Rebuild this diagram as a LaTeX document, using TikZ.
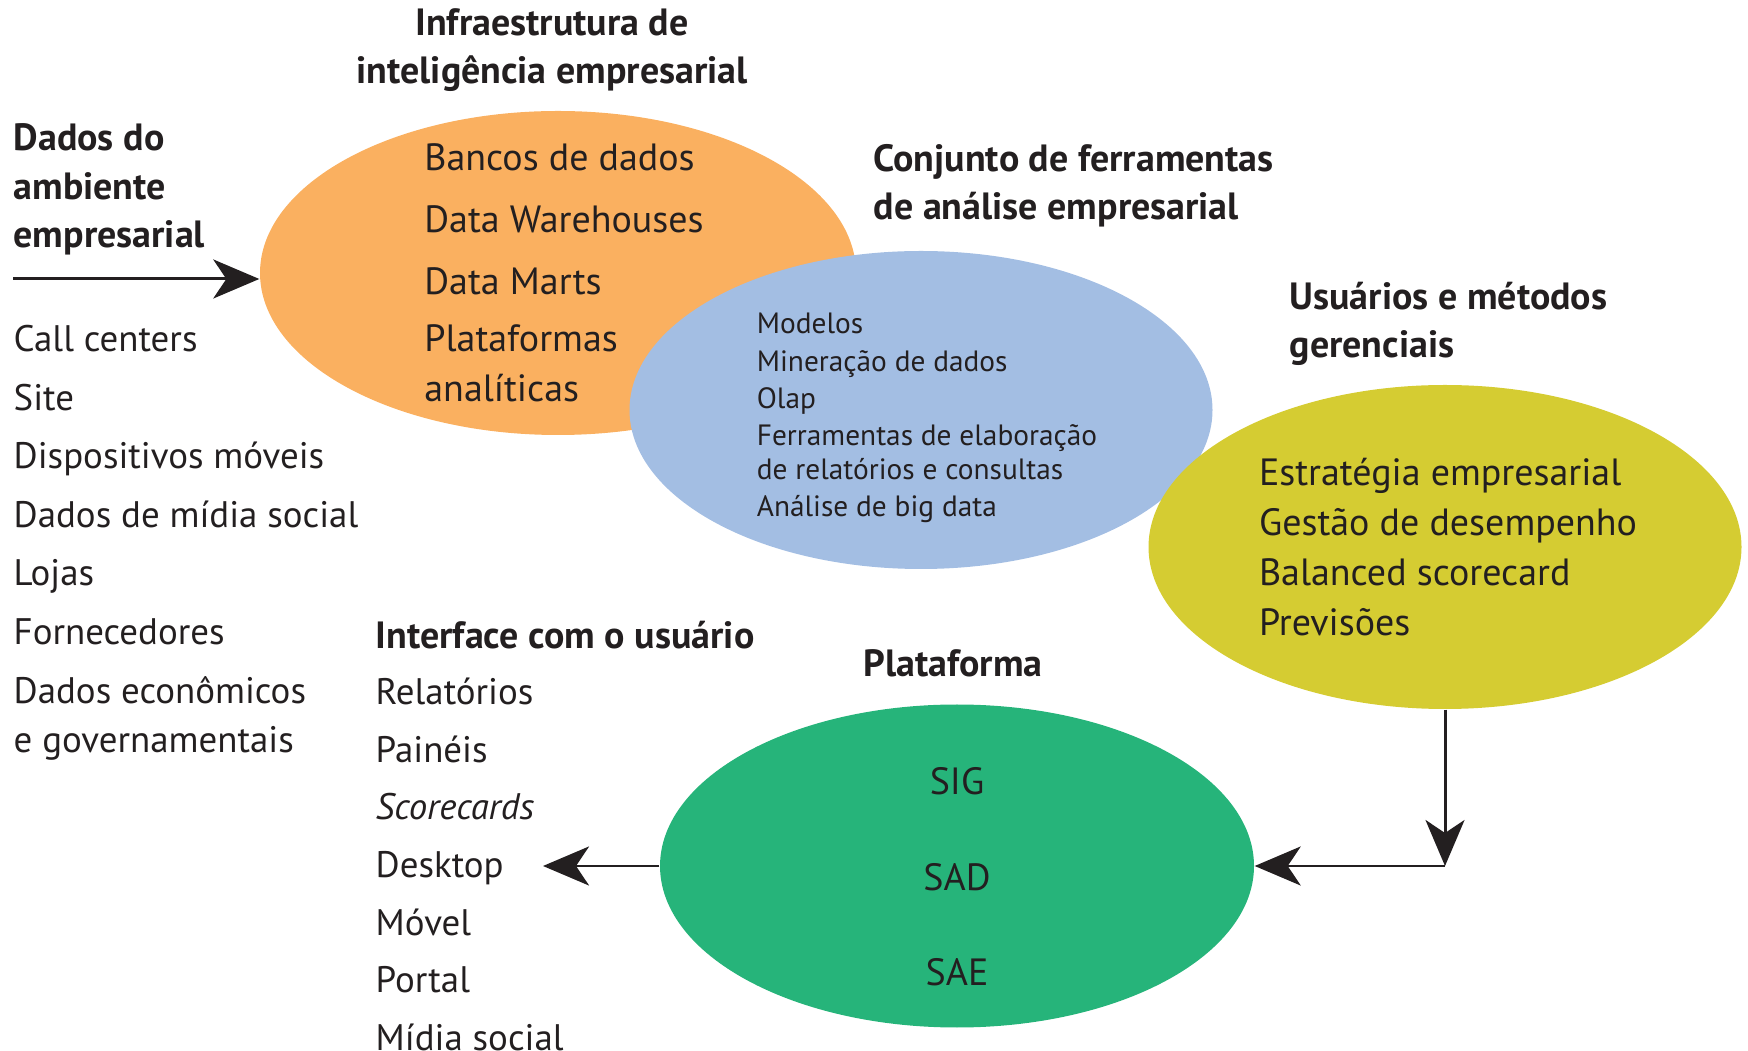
\documentclass[tikz,border=0pt]{standalone}
\usepackage{fontspec}
\setmainfont{PT Sans}
\usetikzlibrary{shapes.geometric,arrows.meta}

\definecolor{laranja}{RGB}{250,176,96}
\definecolor{azul}{RGB}{163,190,227}
\definecolor{amarelo}{RGB}{213,204,50}
\definecolor{verde}{RGB}{38,180,122}
\definecolor{texto}{RGB}{35,31,32}

\begin{document}
\begin{tikzpicture}[x=0.1mm, y=-0.1mm,
  >={Stealth[length=4.6mm, width=3.9mm, inset=1.3mm]},
  bolha/.style={ellipse, inner sep=0pt},
  titulo/.style={font=\bfseries\fontsize{10.8}{13.8}\selectfont, text=texto, align=left, inner sep=0pt},
  lista/.style={font=\fontsize{10.5}{14.2}\selectfont, text=texto, align=left, inner sep=0pt},
  dentro/.style={font=\fontsize{10.8}{14.2}\selectfont, text=texto, align=left, inner sep=0pt},
  miudo/.style={font=\fontsize{8.35}{10.6}\selectfont, text=texto, align=left, inner sep=0pt},
  seta/.style={->, line width=0.85pt, draw=texto}]

\useasboundingbox (0,0) rectangle (1748,1051);

% Ellipses
\node[bolha, fill=laranja, minimum width=59.6mm, minimum height=32.4mm] (infra) at (558,273) {};
\node[bolha, fill=azul, minimum width=58.3mm, minimum height=31.8mm] (ferram) at (921,410) {};
\node[bolha, fill=amarelo, minimum width=59.3mm, minimum height=32.4mm] (usuarios) at (1445,547) {};
\node[bolha, fill=verde, minimum width=59.4mm, minimum height=32.3mm] (plataforma) at (957,866) {};

% Texts inside the ellipses
\node[dentro] (infratxt) at ([shift={(6,0)}]infra.center) {Bancos de dados\\[3.4pt]Data Warehouses\\[3.4pt]Data Marts\\[2pt]Plataformas\\analíticas};
\node[miudo] (ferramtxt) at ([shift={(6,8)}]ferram.center) {Modelos\\Mineração de dados\\Olap\\Ferramentas de elaboração\\[-1pt]de relatórios e consultas\\Análise de big data};
\node[dentro] (usuariostxt) at ([shift={(3,0)}]usuarios.center) {Estratégia empresarial\\Gestão de desempenho\\Balanced scorecard\\Previsões};
\node[dentro, align=center] (plataformatxt) at ([shift={(0,11)}]plataforma.center) {SIG\\[13pt]SAD\\[13pt]SAE};

% Titles (base = last line)
\node[titulo, align=center, anchor=base] (tinfra) at (552,84) {Infraestrutura de\\inteligência empresarial};
\node[titulo, anchor=base west] (tdados) at (13,248) {Dados do\\ambiente\\empresarial};
\node[titulo, anchor=base west] (tferram) at (873,220) {Conjunto de ferramentas\\de análise empresarial};
\node[titulo, anchor=base west] (tusuarios) at (1289,358) {Usuários e métodos\\gerenciais};
\node[titulo, anchor=base west] (tinterface) at (375,649) {Interface com o usuário};
\node[titulo, anchor=base] (tplataforma) at (953,677) {Plataforma};

% Lists
\foreach \fonte [count=\i from 0] in {Call centers, Site, Dispositivos móveis, Dados de mídia social, Lojas, Fornecedores}
  \node[lista, anchor=base west] (fonte\i) at (13, 352+58.5*\i) {\fonte};
\node[lista, anchor=base west] (fonte6) at (13,753) {Dados econômicos\\e governamentais};
\foreach \meio [count=\i from 0] in {Relatórios, Painéis, \textit{Scorecards}, Desktop, Móvel, Portal, Mídia social}
  \node[lista, anchor=base west] (meio\i) at (375, 705+57.5*\i) {\meio};

% Arrows
\coordinate (entrada) at (13,279);
\coordinate (saida) at (543,866);
\coordinate (canto) at (usuarios.south |- plataforma.east);
\draw[seta] (entrada) -- (entrada -| infra.west);
\draw[seta] (plataforma.west) -- (saida);
\draw[seta] (usuarios.south) -- (canto);
\draw[seta] (canto) -- (plataforma.east);

\end{tikzpicture}
\end{document}
